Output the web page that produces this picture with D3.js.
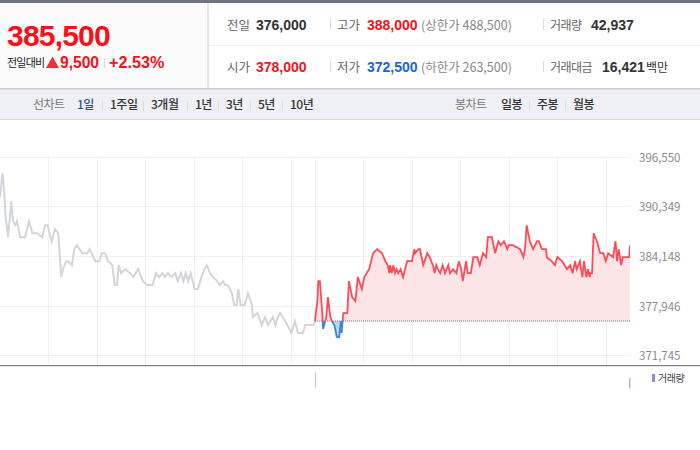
<!DOCTYPE html>
<html>
<head>
<meta charset="utf-8">
<script src="https://cdn.jsdelivr.net/npm/d3@7"></script>
<style>
  html, body { margin: 0; padding: 0; background: #fff; }
  text { font-family: "Noto Sans CJK KR", "Noto Sans", sans-serif; }
  text.num { font-family: "Liberation Sans", Arial, sans-serif; }
</style>
</head>
<body>
<div id="plot"></div>
<script>
// minutes since the 09:00 open, and price in won
var prevMinutes = [0,3,5,7,10,14,16,19,21,25,31,36,40,46,52,56,59,64,68,72,76,78,82,84,89,92,95,102,108,111,118,123,126,130,134,139,142,145,147,150,155,161,165,171,177,182,189,193,197,201,204,208,212,217,220,224,227,230,233,236,241,245,251,256,260,264,269,272,276,279,282,287,290,293,295,298,303,307,312,313,319,324,328,332,338,341,344,347,353,361,365,369,375,378,388,390];
var prevPrices = [391500,394500,392500,389000,386500,391000,388500,388000,388500,386500,386500,388500,387000,387000,386500,388000,388000,386000,387500,387000,381500,382500,383500,383500,383000,385000,385500,384500,384500,385000,383500,383500,384500,384500,383500,383000,380500,380500,383000,382000,382500,382000,381500,382500,381000,380500,380500,382000,381500,382000,381500,382000,381500,382000,381000,382000,381000,382000,381000,382000,380000,380000,382000,383000,382000,381500,381000,380500,381000,380500,380500,379500,378000,378000,380000,378000,378000,379500,378000,376500,377000,375500,376500,375500,376500,375500,376500,377000,376000,374500,376000,374500,374500,375500,375500,376000];
var todayMinutes = [0,1,3,4,6,9,10,14,16,19,21,24,27,30,32,33,35,40,42,46,50,53,58,61,64,67,72,77,83,87,90,92,93,95,97,99,101,103,106,109,114,120,123,124,128,130,134,139,142,146,148,150,152,155,158,161,165,167,171,175,178,181,183,187,189,193,196,201,204,208,212,214,219,223,227,230,234,238,240,245,254,258,260,262,266,270,275,277,281,286,287,293,297,300,306,312,316,319,322,324,328,331,333,336,338,340,341,343,345,349,353,357,360,363,369,372,374,376,379,381,389,390];
var todayPrices = [376000,377000,378500,381000,381000,377000,375000,376500,379000,376500,376000,375500,374000,374000,376000,374500,377000,377000,381000,379000,378500,381500,380000,381500,382000,382500,384500,385000,384500,383500,383000,382000,383000,382000,383000,382000,382500,382000,382500,381500,383500,383500,385000,384500,385000,385000,383000,384500,384000,383000,382000,383000,382500,382000,383000,382000,383000,382000,382500,382000,383500,382500,381000,383500,382000,382000,384000,384000,383000,384500,384000,386500,386500,384500,386000,385500,386000,385000,385500,385500,385000,384000,385000,388000,386000,385000,386000,386000,385000,385000,384000,383500,383000,384000,383500,382500,383000,382000,383500,382500,383500,381500,383500,381500,382500,381500,382000,382000,387000,386000,384500,384500,383500,384500,384000,386000,383500,385000,383000,384000,384000,385500];
var basePrice = 376000;
var yTicks = [371745,377946,384148,390349,396550];
var hourTicks = [60,120,180,240,300,360,390,450,510,570,630,690,750];

var rangeLabels = ["1일","1주일","3개월","1년","3년","5년","10년"];
var candleLabels = ["일봉","주봉","월봉"];

var width = 700, height = 450;
var svg = d3.select("#plot").append("svg")
    .attr("width", width)
    .attr("height", height)
    .style("display", "block");

// ---- header panels
svg.append("rect").attr("x", 0).attr("y", 0).attr("width", width).attr("height", 3).attr("fill", "#70757c");
svg.append("rect").attr("x", 0).attr("y", 3).attr("width", 208).attr("height", 85).attr("fill", "#fbfbfb");
svg.append("rect").attr("x", 207).attr("y", 3).attr("width", 2).attr("height", 85).attr("fill", "#e4e4e6");
svg.append("rect").attr("x", 209).attr("y", 45).attr("width", 491).attr("height", 1).attr("fill", "#eeeeee");
svg.append("rect").attr("x", 0).attr("y", 88).attr("width", width).attr("height", 32).attr("fill", "#eef0f5");
svg.append("rect").attr("x", 0).attr("y", 88).attr("width", width).attr("height", 1.5).attr("fill", "#c9cbd0");
svg.append("rect").attr("x", 0).attr("y", 119).attr("width", width).attr("height", 1).attr("fill", "#d6d8dc");

function label(str, x, y, size, color, weight, anchor, spacing) {
  return svg.append("text")
    .attr("x", x).attr("y", y)
    .attr("font-size", size)
    .attr("fill", color)
    .attr("font-weight", weight || 400)
    .attr("text-anchor", anchor || "start")
    .attr("letter-spacing", spacing || 0)
    .text(str);
}
// latin digits in the header use a plainer face than the hangul
function num(str, x, y, size, color, spacing) {
  return label(str, x, y, size, color, 700, "start", spacing).attr("class", "num");
}
function sep(x, y, h) {
  svg.append("rect").attr("x", x).attr("y", y).attr("width", 1).attr("height", h).attr("fill", "#dcdcdc");
}

var red = "#f9101a", blue = "#1464e6", dark = "#333", mid = "#666", soft = "#888";

num("385,500", 7, 45.5, 30, red, -0.8);
label("전일대비", 7, 67, 11, "#222", 400, "start", -0.8);
svg.append("path").attr("d", "M46 68L52.5 56.5L59 68Z").attr("fill", "#ee3038");
num("9,500", 60, 68, 15.6, red);
sep(104, 58, 10);
num("+2.53%", 109, 68, 16.2, red);

label("전일", 227, 30, 12.5, mid);
num("376,000", 256, 30, 14, dark);
sep(330, 19, 11);
label("고가", 337, 30, 12.5, mid);
num("388,000", 367, 30, 14, red);
label("(상한가 488,500)", 421, 30, 12.5, soft);
sep(543, 19, 11);
label("거래량", 550, 30, 12, mid, 400, "start", -0.5);
num("42,937", 591, 30, 14, dark);

label("시가", 227, 72, 12.5, mid);
num("378,000", 256, 72, 14, red);
sep(330, 61, 11);
label("저가", 337, 72, 12.5, mid);
num("372,500", 367, 72, 14, blue);
label("(하한가 263,500)", 421, 72, 12.5, soft);
sep(543, 61, 11);
label("거래대금", 550, 72, 12, mid, 400, "start", -0.5);
num("16,421", 602, 72, 14, dark);
label("백만", 646, 72, 12, dark);

// ---- period toolbar
label("선차트", 33, 109, 12, "#777", 400, "start", -0.5);
var rangeX = d3.scaleOrdinal().domain(rangeLabels).range([77, 110, 151, 195, 226, 258, 290]);
rangeLabels.forEach(function(d, i) {
  label(d, rangeX(d), 109, 12, i === 0 ? "#2f50a8" : "#333", 500, "start", -0.5);
  if (i > 0) sep(rangeX(d) - 8, 101, 10);
});
label("봉차트", 455, 109, 12, "#777", 400, "start", -0.5);
var candleX = d3.scaleOrdinal().domain(candleLabels).range([501, 537, 573]);
candleLabels.forEach(function(d, i) {
  label(d, candleX(d), 109, 12, "#333", 500, "start", -0.5);
  if (i > 0) sep(candleX(d) - 8, 101, 10);
});

// ---- chart
var x = d3.scaleLinear().domain([0, 780]).range([0, 630]);
var y = d3.scaleLinear().domain([371745, 396550]).range([355, 157]);
var plotBottom = 365;

var grid = svg.append("g").attr("fill", "none").attr("stroke", "#f0f0f2").attr("stroke-width", 1);
grid.selectAll("line.h").data(yTicks).enter().append("line")
    .attr("class", "h")
    .attr("x1", 0).attr("x2", 630)
    .attr("y1", function(d) { return Math.round(y(d)) + 0.5; })
    .attr("y2", function(d) { return Math.round(y(d)) + 0.5; });
grid.selectAll("line.v").data(hourTicks).enter().append("line")
    .attr("class", "v")
    .attr("y1", 157).attr("y2", plotBottom)
    .attr("x1", function(d) { return Math.round(x(d)) + 0.5; })
    .attr("x2", function(d) { return Math.round(x(d)) + 0.5; });

svg.selectAll("text.ytick").data(yTicks).enter().append("text")
    .attr("class", "ytick")
    .attr("x", 639)
    .attr("y", function(d) { return y(d) + 5; })
    .attr("font-size", 11.5)
    .attr("fill", "#8a8a8a")
    .text(d3.format(","));

var defs = svg.append("defs");
defs.append("clipPath").attr("id", "above").append("rect")
    .attr("x", 0).attr("y", 157).attr("width", 630).attr("height", y(basePrice) - 157);
defs.append("clipPath").attr("id", "below").append("rect")
    .attr("x", 0).attr("y", y(basePrice)).attr("width", 630).attr("height", plotBottom - y(basePrice));

var prevData = prevMinutes.map(function(m, i) { return {m: m, p: prevPrices[i]}; });
var todayData = todayMinutes.map(function(m, i) { return {m: m + 390, p: todayPrices[i]}; });

var line = d3.line().x(function(d) { return x(d.m); }).y(function(d) { return y(d.p); });
var area = d3.area().x(function(d) { return x(d.m); }).y0(y(basePrice)).y1(function(d) { return y(d.p); });

svg.append("path").datum(prevData).attr("d", line)
    .attr("fill", "none").attr("stroke", "#d3d5da").attr("stroke-width", 2);

svg.append("path").datum(todayData).attr("d", area).attr("clip-path", "url(#above)").attr("fill", "#fde4e6");
svg.append("path").datum(todayData).attr("d", area).attr("clip-path", "url(#below)").attr("fill", "#b9d4f5");

svg.append("line")
    .attr("x1", x(390)).attr("x2", x(780))
    .attr("y1", y(basePrice)).attr("y2", y(basePrice))
    .attr("stroke", "#777").attr("stroke-width", 1).attr("stroke-dasharray", "1,1");

svg.append("path").datum(todayData).attr("d", line).attr("clip-path", "url(#above)")
    .attr("fill", "none").attr("stroke", "#ff4a58").attr("stroke-width", 1.8);
svg.append("path").datum(todayData).attr("d", line).attr("clip-path", "url(#below)")
    .attr("fill", "none").attr("stroke", "#3d86e0").attr("stroke-width", 1.8);

// axis and volume strip
svg.append("rect").attr("x", 0).attr("y", plotBottom).attr("width", width).attr("height", 1.2).attr("fill", "#7c7c7c");
svg.append("rect").attr("x", x(390)).attr("y", 372).attr("width", 1).attr("height", 16).attr("fill", "#c8c8c8");
svg.append("rect").attr("x", x(779)).attr("y", 378).attr("width", 1.2).attr("height", 10).attr("fill", "#a99ad0");
svg.append("rect").attr("x", 652).attr("y", 374).attr("width", 3).attr("height", 8).attr("fill", "#9a88c8");
label("거래량", 658, 382, 10, "#444", 400, "start", -0.5);
</script>
</body>
</html>
